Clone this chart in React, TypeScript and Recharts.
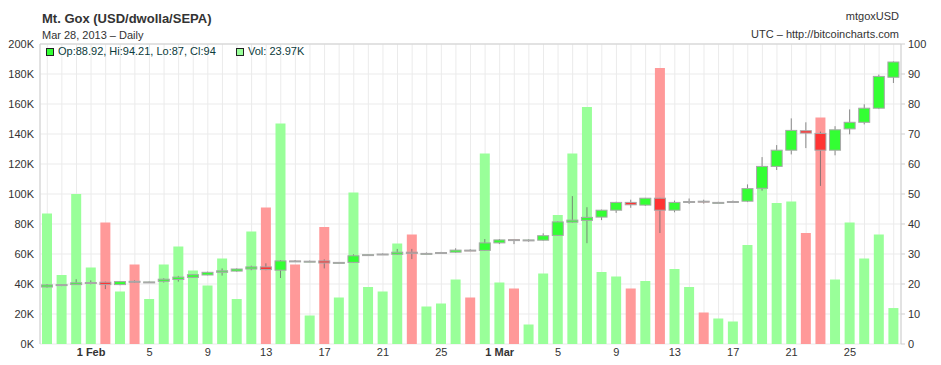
import React from "react";
import {
  ComposedChart,
  Bar,
  XAxis,
  YAxis,
  CartesianGrid,
  Cell,
  ReferenceLine,
} from "recharts";

// one entry per trading day, Jan 29 .. Mar 28 2013
const days = [
  "29 Jan", "30 Jan", "31 Jan",
  "1 Feb", "2 Feb", "3 Feb", "4 Feb", "5 Feb", "6 Feb", "7 Feb", "8 Feb", "9 Feb", "10 Feb",
  "11 Feb", "12 Feb", "13 Feb", "14 Feb", "15 Feb", "16 Feb", "17 Feb", "18 Feb", "19 Feb", "20 Feb",
  "21 Feb", "22 Feb", "23 Feb", "24 Feb", "25 Feb", "26 Feb", "27 Feb", "28 Feb",
  "1 Mar", "2 Mar", "3 Mar", "4 Mar", "5 Mar", "6 Mar", "7 Mar", "8 Mar", "9 Mar", "10 Mar",
  "11 Mar", "12 Mar", "13 Mar", "14 Mar", "15 Mar", "16 Mar", "17 Mar", "18 Mar", "19 Mar", "20 Mar",
  "21 Mar", "22 Mar", "23 Mar", "24 Mar", "25 Mar", "26 Mar", "27 Mar", "28 Mar",
];

const openPx = [
  19.0, 19.7, 19.8, 20.4, 20.6, 19.8, 20.9, 20.65, 20.9, 21.5,
  22.2, 23.0, 23.9, 24.3, 25.0, 25.7, 24.6, 27.7, 27.5, 27.7,
  27.0, 27.2, 29.6, 29.9, 29.9, 30.6, 30.0, 30.2, 30.6, 31.3,
  31.2, 33.7, 34.8, 34.6, 34.6, 36.2, 40.6, 41.2, 42.3, 44.6,
  47.2, 46.3, 48.6, 44.6, 47.3, 47.6, 47.1, 47.2, 47.6, 51.9,
  59.2, 64.6, 71.1, 70.2, 64.6, 71.7, 73.9, 78.6, 88.92,
];
const highPx = [
  20.0, 19.9, 21.6, 21.2, 20.8, 21.0, 21.2, 20.8, 21.9, 22.7,
  23.2, 24.1, 25.2, 25.2, 26.1, 26.9, 28.0, 28.0, 27.8, 28.2,
  27.3, 29.9, 30.0, 30.2, 31.7, 31.7, 30.5, 30.7, 31.9, 31.6,
  35.0, 35.0, 34.9, 34.9, 36.9, 40.9, 49.3, 45.6, 44.8, 47.4,
  48.1, 48.7, 48.7, 47.8, 48.5, 48.1, 47.4, 47.8, 53.2, 62.3,
  66.3, 75.2, 73.9, 70.8, 72.6, 78.2, 79.9, 89.8, 94.21,
];
const lowPx = [
  18.8, 19.3, 19.7, 19.9, 18.3, 19.6, 20.4, 20.6, 20.5, 20.8,
  22.0, 22.9, 22.8, 24.1, 24.6, 24.6, 22.0, 27.4, 27.3, 25.2,
  26.8, 27.0, 29.4, 29.7, 29.7, 28.3, 29.8, 30.1, 30.4, 31.0,
  31.0, 33.3, 33.3, 34.1, 34.4, 36.0, 40.4, 33.6, 41.3, 43.7,
  45.4, 46.0, 37.0, 43.9, 46.7, 46.8, 47.0, 47.1, 47.3, 51.1,
  58.0, 63.2, 65.3, 52.7, 62.9, 69.9, 73.2, 78.3, 87,
];
const closePx = [
  19.7, 19.8, 20.4, 20.5, 19.8, 20.8, 20.7, 20.7, 21.6, 22.3,
  23.1, 23.9, 24.4, 25.0, 25.7, 24.8, 27.7, 27.6, 27.6, 27.0,
  27.2, 29.4, 29.8, 30.0, 30.6, 30.2, 30.2, 30.5, 31.3, 31.2,
  33.7, 34.7, 34.7, 34.7, 36.1, 40.7, 41.3, 42.2, 44.6, 47.2,
  46.4, 48.6, 44.6, 47.2, 47.5, 47.4, 47.2, 47.5, 51.8, 59.2,
  64.6, 71.2, 70.3, 64.6, 71.4, 73.9, 78.6, 89.2, 94,
];
// volume in thousands
const volumeK = [
  87, 46, 100, 51, 81, 35, 53, 30, 53, 65,
  49, 39, 57, 30, 75, 91, 147, 53, 19, 78,
  31, 101, 38, 35, 67, 73, 25, 27, 43, 31,
  127, 41, 37, 13, 47, 86, 127, 158, 48, 45,
  37, 42, 184, 50, 38, 21, 17, 15, 66, 108,
  94, 95, 74, 151, 43, 81, 57, 73, 23.97,
];

const shownTicks = [
  "1 Feb", "5 Feb", "9 Feb", "13 Feb", "17 Feb", "21 Feb", "25 Feb",
  "1 Mar", "5 Mar", "9 Mar", "13 Mar", "17 Mar", "21 Mar", "25 Mar",
];
const volTicks = [0, 20, 40, 60, 80, 100, 120, 140, 160, 180, 200];
const priceTicks = [0, 10, 20, 30, 40, 50, 60, 70, 80, 90, 100];

const data = days.map((day, i) => ({
  day,
  open: openPx[i],
  high: highPx[i],
  low: lowPx[i],
  close: closePx[i],
  vol: volumeK[i],
  range: [lowPx[i], highPx[i]],
}));

const FONT = "'Liberation Sans', Arial, sans-serif";
const GRID = "#ebebeb";
const FRAME = "#cfcfcf";

const Candle = (props: any) => {
  const { x, y, width, height, payload } = props;
  if (x == null || y == null) return <g />;
  const top = Math.min(y, y + height);
  const span = Math.abs(height);
  const { open, close, high, low } = payload;
  const toY = (v: number) => (high === low ? top : top + ((high - v) / (high - low)) * span);
  const up = close >= open;
  const yO = toY(open);
  const yC = toY(close);
  const bodyTop = Math.min(yO, yC);
  const bodyH = Math.max(Math.abs(yO - yC), 1);
  const cx = x + width / 2;
  return (
    <g>
      <line x1={cx} x2={cx} y1={top} y2={top + span} stroke="#666" strokeOpacity={0.75} />
      <rect
        x={x + 0.5}
        y={bodyTop}
        width={width - 1}
        height={bodyH}
        fill={up ? "#33ff33" : "#ff3333"}
        stroke="#a8a8a8"
      />
    </g>
  );
};

// the y recharts hands a custom tick sits well below the axis line here
const DayTick = ({ x, y, payload }: any) => {
  const v: string = payload.value;
  if (!shownTicks.includes(v)) return <g />;
  const d = v.split(" ")[0];
  const first = d === "1";
  return (
    <text
      x={x}
      y={y}
      dy={-18}
      textAnchor="middle"
      fontSize={11}
      fontFamily={FONT}
      fontWeight={first ? "bold" : "normal"}
      fill="#333"
    >
      {first ? v : d}
    </text>
  );
};

export default function App() {
  return (
    <div style={{ position: "relative", width: 925, height: 356, fontFamily: FONT }}>
      <ComposedChart
        width={925}
        height={356}
        data={data}
        margin={{ top: 36, right: 0, bottom: 0, left: 0 }}
      >
        <CartesianGrid stroke={GRID} xAxisId="v" yAxisId="vol" />
        <XAxis
          xAxisId="v"
          dataKey="day"
          interval={0}
          height={20}
          tickLine={false}
          tickSize={0}
          tickMargin={0}
          axisLine={{ stroke: FRAME }}
          tick={<DayTick />}
        />
        <XAxis xAxisId="c" dataKey="day" hide />
        <YAxis
          yAxisId="vol"
          orientation="left"
          width={32}
          domain={[0, 200]}
          ticks={volTicks}
          tickFormatter={(v: number) => `${v}K`}
          tickLine={false}
          tickSize={0}
          tickMargin={6}
          axisLine={{ stroke: FRAME }}
          tick={{ fontSize: 11, fill: "#333", fontFamily: FONT }}
        />
        <YAxis
          yAxisId="px"
          orientation="right"
          width={32}
          domain={[0, 100]}
          ticks={priceTicks}
          tickSize={4}
          tickMargin={3}
          tickLine={{ stroke: FRAME }}
          axisLine={{ stroke: FRAME }}
          tick={{ fontSize: 11, fill: "#333", fontFamily: FONT, textAnchor: "start" }}
        />
        <ReferenceLine y={200} xAxisId="v" yAxisId="vol" stroke={FRAME} />
        <Bar dataKey="vol" xAxisId="v" yAxisId="vol" barSize={10} isAnimationActive={false}>
          {data.map((d, i) => (
            <Cell key={i} fill={d.close >= d.open ? "#99ff99" : "#ff9999"} />
          ))}
        </Bar>
        <Bar
          dataKey="range"
          xAxisId="c"
          yAxisId="px"
          barSize={12}
          shape={<Candle />}
          isAnimationActive={false}
        />
      </ComposedChart>
      <svg
        width={925}
        height={356}
        style={{ position: "absolute", left: 0, top: 0, pointerEvents: "none" }}
      >
        <text x={34} y={15} fontSize={13} fontWeight="bold" fill="#333" fontFamily={FONT}>
          Mt. Gox (USD/dwolla/SEPA)
        </text>
        <text x={34} y={31} fontSize={11} fill="#333" fontFamily={FONT}>
          Mar 28, 2013 – Daily
        </text>
        <text x={891} y={12} fontSize={11} fill="#333" fontFamily={FONT} textAnchor="end">
          mtgoxUSD
        </text>
        <text x={891} y={30} fontSize={11} fill="#333" fontFamily={FONT} textAnchor="end">
          UTC – http://bitcoincharts.com
        </text>
        <rect x={38.5} y={40.5} width={7} height={7} fill="#33ff33" stroke="#222" />
        <text x={50} y={47} fontSize={11} fill="#0b3b3b" fontFamily={FONT}>
          Op:88.92, Hi:94.21, Lo:87, Cl:94
        </text>
        <rect x={228.5} y={40.5} width={7} height={7} fill="#99ff99" stroke="#222" />
        <text x={240} y={47} fontSize={11} fill="#0b3b3b" fontFamily={FONT}>
          Vol: 23.97K
        </text>
      </svg>
    </div>
  );
}
